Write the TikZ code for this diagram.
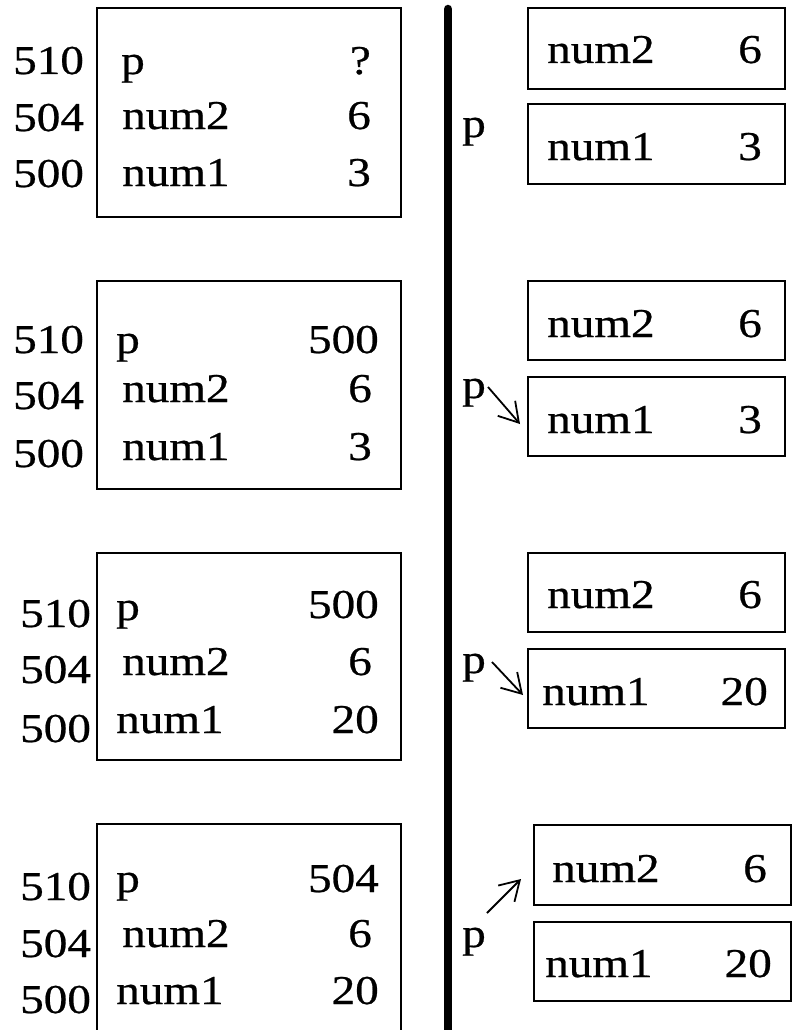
\documentclass[tikz,border=0pt]{standalone}
\usepackage{fontspec}
\setmainfont[FakeStretch=1.15,FakeBold=0.6]{Liberation Serif}
\usetikzlibrary{arrows.meta}
\begin{document}
\begin{tikzpicture}[x=1pt,y=-1pt,
  every node/.style={font=\fontsize{41}{49}\selectfont},
  lbl/.style={anchor=base west, inner sep=0pt},
  val/.style={anchor=base east, inner sep=0pt},
  cell/.style={draw, line width=1.6pt, inner sep=0pt, anchor=north west},
  lcell/.style={cell, minimum width=304pt},
  rcell/.style={cell, minimum width=257pt, minimum height=80pt},
  ptr/.style={line width=1.8pt, -{Straight Barb[length=19pt,width=23pt,line width=1.8pt]}}]
\useasboundingbox (0,0) rectangle (794,1030);
% divider
\draw[line width=8.5pt, line cap=round] (448,9) -- (448,1040);

% ---------- left column ----------
% frame 1
\node[lcell, minimum height=209pt] (L1) at (96,7) {};
\node[lbl] (a11) at (13,74) {510};
\node[lbl] (a12) at (13,131) {504};
\node[lbl] (a13) at (13,187) {500};
\node[lbl] (n11) at (121,74) {p};
\node[val] (v11) at (371,74) {?};
\node[lbl] (n12) at (122,129) {num2};
\node[val] (v12) at (371,129) {6};
\node[lbl] (n13) at (122,186) {num1};
\node[val] (v13) at (371,186) {3};

% frame 2
\node[lcell, minimum height=208pt] (L2) at (96,280) {};
\node[lbl] (a21) at (13,353) {510};
\node[lbl] (a22) at (13,409) {504};
\node[lbl] (a23) at (13,467) {500};
\node[lbl] (n21) at (116,353) {p};
\node[val] (v21) at (379,353) {500};
\node[lbl] (n22) at (122,402) {num2};
\node[val] (v22) at (372,402) {6};
\node[lbl] (n23) at (122,460) {num1};
\node[val] (v23) at (372,460) {3};

% frame 3
\node[lcell, minimum height=207pt] (L3) at (96,552) {};
\node[lbl] (a31) at (20,627) {510};
\node[lbl] (a32) at (20,683) {504};
\node[lbl] (a33) at (20,742) {500};
\node[lbl] (n31) at (116,620) {p};
\node[val] (v31) at (379,618) {500};
\node[lbl] (n32) at (122,675) {num2};
\node[val] (v32) at (372,675) {6};
\node[lbl] (n33) at (116,733) {num1};
\node[val] (v33) at (379,733) {20};

% frame 4
\node[lcell, minimum height=215pt] (L4) at (96,823) {};
\node[lbl] (a41) at (20,900) {510};
\node[lbl] (a42) at (20,957) {504};
\node[lbl] (a43) at (20,1013) {500};
\node[lbl] (n41) at (116,892) {p};
\node[val] (v41) at (379,892) {504};
\node[lbl] (n42) at (122,947) {num2};
\node[val] (v42) at (372,947) {6};
\node[lbl] (n43) at (116,1004) {num1};
\node[val] (v43) at (379,1004) {20};

% ---------- right column ----------
% set 1
\node[rcell, minimum height=81pt] (R1a) at (527,7) {};
\node[rcell] (R1b) at (527,103) {};
\node[lbl] (m1a) at (547,63) {num2};
\node[val] (w1a) at (762,63) {6};
\node[lbl] (m1b) at (547,160) {num1};
\node[val] (w1b) at (762,160) {3};
\node[lbl] (p1) at (462,137) {p};

% set 2
\node[rcell, minimum height=79pt] (R2a) at (527,280) {};
\node[rcell, minimum height=79pt] (R2b) at (527,376) {};
\node[lbl] (m2a) at (547,337) {num2};
\node[val] (w2a) at (762,337) {6};
\node[lbl] (m2b) at (547,433) {num1};
\node[val] (w2b) at (762,433) {3};
\node[lbl] (p2) at (462,398) {p};
\coordinate (s2) at (488,387);
\coordinate (t2) at (520,424);
\draw[ptr] (s2) -- (t2);

% set 3
\node[rcell, minimum height=79pt] (R3a) at (527,552) {};
\node[rcell, minimum height=79pt] (R3b) at (527,648) {};
\node[lbl] (m3a) at (547,608) {num2};
\node[val] (w3a) at (762,608) {6};
\node[lbl] (m3b) at (542,705) {num1};
\node[val] (w3b) at (768,705) {20};
\node[lbl] (p3) at (462,673) {p};
\coordinate (s3) at (492,662);
\coordinate (t3) at (523,695);
\draw[ptr] (s3) -- (t3);

% set 4
\node[rcell] (R4a) at (533,824) {};
\node[rcell, minimum height=79pt] (R4b) at (533,921) {};
\node[lbl] (m4a) at (552,882) {num2};
\node[val] (w4a) at (767,882) {6};
\node[lbl] (m4b) at (545,977) {num1};
\node[val] (w4b) at (772,977) {20};
\node[lbl] (p4) at (462,947) {p};
\coordinate (s4) at (487,913);
\coordinate (t4) at (521,879);
\draw[ptr] (s4) -- (t4);
\end{tikzpicture}
\end{document}
